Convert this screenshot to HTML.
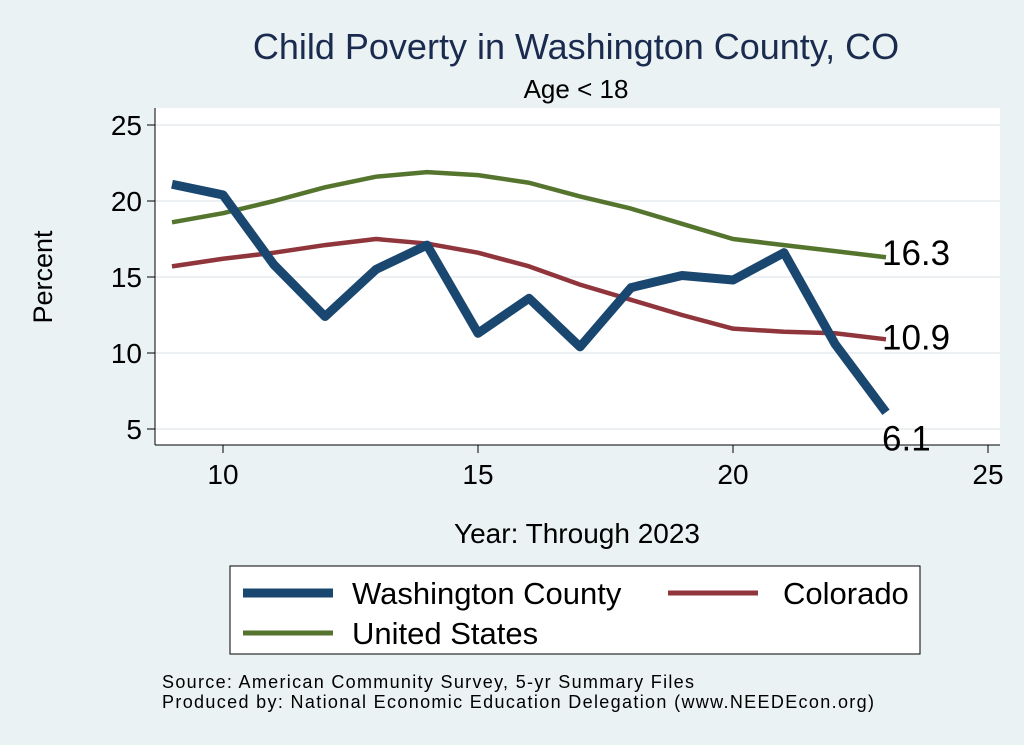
<!DOCTYPE html>
<html><head><meta charset="utf-8"><style>
body{margin:0;background:#eaf2f3;}
svg{display:block;font-family:"Liberation Sans",sans-serif;}
</style></head><body>
<svg width="1024" height="745">
<rect x="0" y="0" width="1024" height="745" fill="#eaf2f3"/>
<rect x="155" y="108" width="845" height="337" fill="#fff"/>
<text x="576" y="59" font-size="36" fill="#1a2b4f" text-anchor="middle">Child Poverty in Washington County, CO</text>
<text x="576" y="98" font-size="26" fill="#000" text-anchor="middle">Age &lt; 18</text>
<g id="grid"></g><g id="axes"></g><g id="series"></g>
<text transform="translate(52,277) rotate(-90)" font-size="27" text-anchor="middle">Percent</text>
<text x="577" y="543" font-size="28" text-anchor="middle">Year: Through 2023</text>
<g>
<rect x="230" y="566" width="690" height="88" fill="#fff" stroke="#000" stroke-width="1"/>
<line x1="243" y1="593" x2="333" y2="593" stroke="#1a476f" stroke-width="9"/>
<text x="352" y="604" font-size="31">Washington County</text>
<line x1="668" y1="593" x2="758" y2="593" stroke="#90353b" stroke-width="5"/>
<text x="783" y="604" font-size="31">Colorado</text>
<line x1="243" y1="633" x2="333" y2="633" stroke="#55752f" stroke-width="5"/>
<text x="352" y="644" font-size="31">United States</text>
</g>
<text x="162" y="688" font-size="18" textLength="532">Source: American Community Survey, 5-yr Summary Files</text>
<text x="162" y="708" font-size="18" textLength="712">Produced by: National Economic Education Delegation (www.NEEDEcon.org)</text>
</svg>
<script>
const years=[9,10,11,12,13,14,15,16,17,18,19,20,21,22,23];
const washington=[21.1,20.4,15.8,12.4,15.5,17.1,11.3,13.6,10.4,14.3,15.1,14.8,16.6,10.6,6.1];
const colorado=[15.7,16.2,16.6,17.1,17.5,17.2,16.6,15.7,14.5,13.5,12.5,11.6,11.4,11.3,10.9];
const us=[18.6,19.2,20.0,20.9,21.6,21.9,21.7,21.2,20.3,19.5,18.5,17.5,17.1,16.7,16.3];
const xTicks=[10,15,20,25];
const yTicks=[5,10,15,20,25];
const NS='http://www.w3.org/2000/svg';
const xs=v=>223+(v-10)*51;
const ys=v=>353-(v-10)*15.2;
function mk(tag,attrs,parent){const e=document.createElementNS(NS,tag);for(const k in attrs)e.setAttribute(k,attrs[k]);document.getElementById(parent).appendChild(e);return e;}
yTicks.forEach(t=>{
 const g=mk('line',{x1:155,x2:1000,y1:ys(t),y2:ys(t),stroke:'#e6ecee','stroke-width':1.5},'grid');
 
 
 const k=mk('line',{x1:147,x2:155,y1:ys(t),y2:ys(t),stroke:'#000','stroke-width':1},'axes');
 
 
 const l=mk('text',{x:142,y:ys(t)+10,'font-size':28,'text-anchor':'end'},'axes');l.textContent=t;
 
 
});
xTicks.forEach(t=>{
 const k=mk('line',{x1:xs(t),x2:xs(t),y1:445,y2:453,stroke:'#000','stroke-width':1},'axes');
 
 
 const l=mk('text',{x:xs(t),y:484,'font-size':28,'text-anchor':'middle'},'axes');l.textContent=t;
 
 
});
const ya=mk('line',{x1:155,x2:155,y1:108,y2:445,stroke:'#000'},'axes');


const xa=mk('line',{x1:155,x2:1000,y1:445,y2:445,stroke:'#000'},'axes');


function line(vals,color,w,name){
 const p=mk('polyline',{points:vals.map((v,i)=>xs(years[i])+','+ys(v)).join(' '),fill:'none',stroke:color,'stroke-width':w,'stroke-linejoin':'round'},'series');
 
 
}
line(us,'#55752f',4.5,'us-line');
line(colorado,'#90353b',4.5,'colorado-line');
line(washington,'#1a476f',9,'washington-line');
const last=years.length-1;
[[us,-4,'us-end-label'],[colorado,-2,'colorado-end-label'],[washington,26,'washington-end-label']].forEach(([s,dy,n])=>{
 const t=mk('text',{x:xs(years[last])-4,y:ys(s[last])+dy+12,'font-size':35},'series');
 t.textContent=s[last].toFixed(1);
 
 
});
</script>
</body></html>
